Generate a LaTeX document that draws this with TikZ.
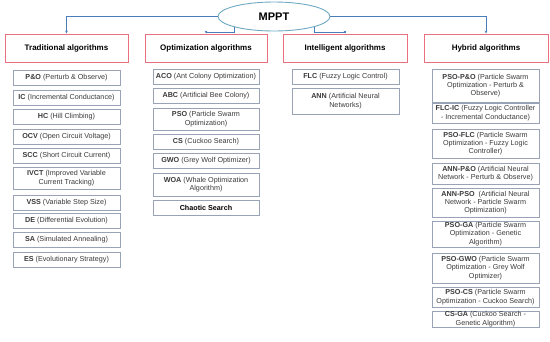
\documentclass[tikz,border=0pt]{standalone}
\usepackage{fontspec}
\setmainfont{Liberation Sans}
\usetikzlibrary{shapes.geometric,arrows.meta}
\definecolor{catred}{HTML}{E8707F}
\definecolor{subgrey}{HTML}{98A3B6}
\definecolor{elline}{HTML}{6FAAC2}
\definecolor{connblue}{HTML}{4A7EBB}
\definecolor{desc}{HTML}{3A3A3A}
\newcommand{\ab}[1]{\textbf{#1}}
\tikzset{
  cat/.style={draw=catred, line width=0.9pt, fill=white, minimum height=28pt, inner sep=0pt, font=\fontsize{8}{9}\selectfont\bfseries},
  sub/.style={draw=subgrey, line width=0.7pt, fill=white, inner sep=0pt, align=center, text=desc, font=\fontsize{7.2}{8.3}\selectfont},
  conn/.style={draw=connblue, line width=0.6pt, -{Stealth[length=3pt,width=2.6pt]}},
}
\begin{document}
\begin{tikzpicture}[x=1pt,y=-1pt]
\useasboundingbox[fill=white] (0,0) rectangle (550,341);
\node[ellipse, draw=elline, line width=0.9pt, fill=white, minimum width=112pt, minimum height=29pt, inner sep=0pt, font=\fontsize{11}{12}\selectfont\bfseries] (mppt) at (274,16.5) {MPPT};

\node[cat, minimum width=123pt] (trad) at (66.5,48) {Traditional algorithms};
\node[cat, minimum width=122pt] (opt) at (206,48) {Optimization algorithms};
\node[cat, minimum width=124pt] (intel) at (345,48) {Intelligent algorithms};
\node[cat, minimum width=124pt] (hyb) at (486,48) {Hybrid algorithms};

\draw[conn] (mppt.west) -| (trad.north);
\draw[conn] (mppt.south west) -- ++(0,5) -| (opt.north);
\draw[conn] (mppt.south east) -- ++(0,5) -| (intel.north);
\draw[conn] (mppt.east) -| (hyb.north);

% Traditional
\begin{scope}[every node/.append style={sub, minimum width=107pt, minimum height=15pt}]
\node (po) at (66.5,78) {\ab{P\&O} (Perturb \& Observe)};
\node (ic) at (66.5,97.5) {\ab{IC} (Incremental Conductance)};
\node (hc) at (66.5,116.5) {\ab{HC} (Hill Climbing)};
\node (ocv) at (66.5,136.5) {\ab{OCV} (Open Circuit Voltage)};
\node (scc) at (66.5,155.5) {\ab{SCC} (Short Circuit Current)};
\node[minimum height=22pt] (ivct) at (66.5,178) {\ab{IVCT} (Improved Variable\\Current Tracking)};
\node (vss) at (66.5,202.5) {\ab{VSS} (Variable Step Size)};
\node (de) at (66.5,220.5) {\ab{DE} (Differential Evolution)};
\node (sa) at (66.5,240) {\ab{SA} (Simulated Annealing)};
\node (es) at (66.5,259.5) {\ab{ES} (Evolutionary Strategy)};
\end{scope}

% Optimization
\begin{scope}[every node/.append style={sub, minimum width=106pt, minimum height=15pt}]
\node (aco) at (206,77) {\ab{ACO} (Ant Colony Optimization)};
\node (abc) at (206,95.5) {\ab{ABC} (Artificial Bee Colony)};
\node[minimum height=22pt] (pso) at (206,119) {\ab{PSO} (Particle Swarm\\Optimization)};
\node (cs) at (206,142) {\ab{CS} (Cuckoo Search)};
\node (gwo) at (206,161) {\ab{GWO} (Grey Wolf Optimizer)};
\node[minimum height=23pt] (woa) at (206,184.5) {\ab{WOA} (Whale Optimization\\Algorithm)};
\node[text=black] (chs) at (206,207.5) {\ab{Chaotic Search}};
\end{scope}

% Intelligent
\begin{scope}[every node/.append style={sub, minimum width=107pt, minimum height=15pt}]
\node (flc) at (345.5,76.5) {\ab{FLC} (Fuzzy Logic Control)};
\node[minimum height=26pt] (ann) at (345.5,101) {\ab{ANN} (Artificial Neural\\Networks)};
\end{scope}

% Hybrid
\begin{scope}[every node/.append style={sub, minimum width=107pt}]
\node[minimum height=33pt] (psopo) at (485.5,85.5) {\ab{PSO-P\&O} (Particle Swarm\\Optimization - Perturb \&\\Observe)};
\node[minimum height=20pt] (flcic) at (485.5,113) {\ab{FLC-IC} (Fuzzy Logic Controller\\- Incremental Conductance)};
\node[minimum height=29pt] (psoflc) at (485.5,143.5) {\ab{PSO-FLC} (Particle Swarm\\Optimization - Fuzzy Logic\\Controller)};
\node[minimum height=21pt] (annpo) at (485.5,173.5) {\ab{ANN-P\&O} (Artificial Neural\\Network - Perturb \& Observe)};
\node[minimum height=29pt] (annpso) at (485.5,202.5) {\ab{ANN-PSO}\ \ (Artificial Neural\\Network - Particle Swarm\\Optimization)};
\node[minimum height=26pt] (psoga) at (485.5,234) {\ab{PSO-GA} (Particle Swarm\\Optimization - Genetic\\Algorithm)};
\node[minimum height=30pt] (psogwo) at (485.5,268) {\ab{PSO-GWO} (Particle Swarm\\Optimization - Grey Wolf\\Optimizer)};
\node[minimum height=20pt] (psocs) at (485.5,297) {\ab{PSO-CS} (Particle Swarm\\Optimization - Cuckoo Search)};
\node[minimum height=16pt] (csga) at (485.5,319) {\ab{CS-GA} (Cuckoo Search -\\Genetic Algorithm)};
\end{scope}
\end{tikzpicture}
\end{document}
